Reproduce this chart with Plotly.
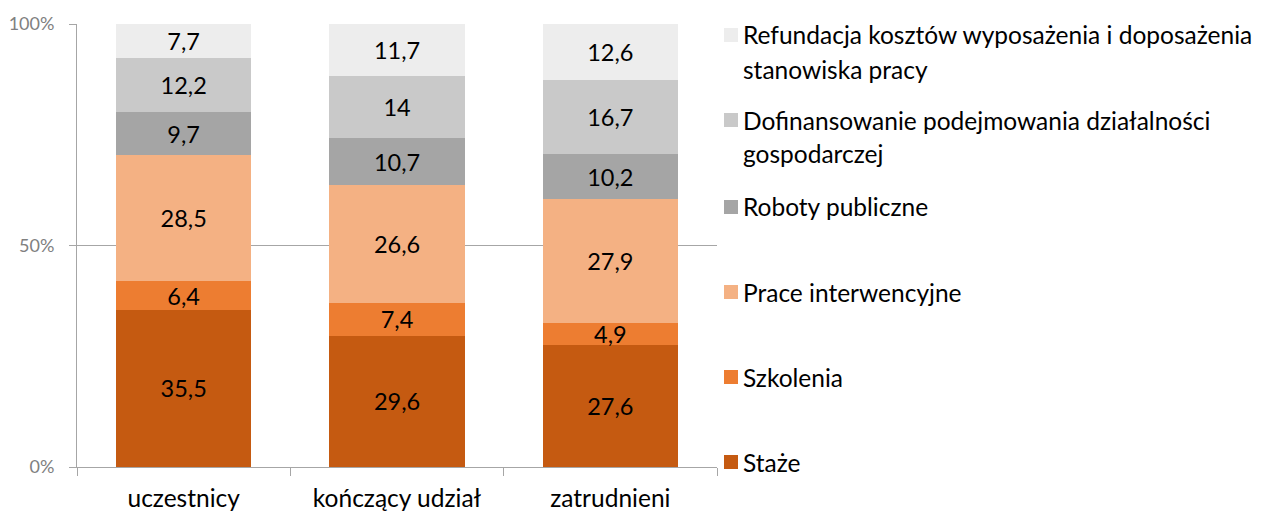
import plotly.graph_objects as go

categories = ["uczestnicy", "kończący udział", "zatrudnieni"]
series_names = [
    "Staże",
    "Szkolenia",
    "Prace interwencyjne",
    "Roboty publiczne",
    "Dofinansowanie podejmowania działalności gospodarczej",
    "Refundacja kosztów wyposażenia i doposażenia stanowiska pracy",
]
staze = [35.5, 29.6, 27.6]
szkolenia = [6.4, 7.4, 4.9]
prace_interwencyjne = [28.5, 26.6, 27.9]
roboty_publiczne = [9.7, 10.7, 10.2]
dofinansowanie = [12.2, 14, 16.7]
refundacja = [7.7, 11.7, 12.6]
series_values = [staze, szkolenia, prace_interwencyjne, roboty_publiczne, dofinansowanie, refundacja]
colors = ["#C55A11", "#ED7D31", "#F4B183", "#A5A5A5", "#C9C9C9", "#EDEDED"]
legend_lines = [
    ["Staże"],
    ["Szkolenia"],
    ["Prace interwencyjne"],
    ["Roboty publiczne"],
    ["Dofinansowanie podejmowania działalności", "gospodarczej"],
    ["Refundacja kosztów wyposażenia i doposażenia", "stanowiska pracy"],
]
y_ticks = [0, 50, 100]
y_tick_labels = ["0%", "50%", "100%"]

FONT = "Lato"
W, H = 1261, 514
ML, MR, MT, MB = 77, 544, 24, 47


def fmt(v):
    return f"{v:g}".replace(".", ",")


fig = go.Figure()
for name, vals, col in zip(series_names, series_values, colors):
    fig.add_trace(go.Bar(
        x=categories, y=vals, name=name,
        marker=dict(color=col, line=dict(width=0)),
        text=[fmt(v) for v in vals],
        textposition="inside", insidetextanchor="middle",
        constraintext="none",
        textfont=dict(family=FONT, size=23.5, color="#000000"),
        showlegend=False, hoverinfo="skip",
    ))

# manual legend (Excel-like layout)
plot_h = H - MT - MB
plot_w = W - ML - MR
def py(pix):
    return (H - MB - pix) / plot_h
def px(pix):
    return (pix - ML) / plot_w

legend_first_line_px = [462, 377, 292, 207, 120, 35]
line_gap = 34
shapes = []
annotations = []
for lines, col, y0 in zip(legend_lines, colors, legend_first_line_px):
    shapes.append(dict(type="rect", xref="paper", yref="paper",
                       x0=px(724), x1=px(738),
                       y0=py(y0 + 7), y1=py(y0 - 7),
                       fillcolor=col, line=dict(width=0), layer="above"))
    for i, ln in enumerate(lines):
        annotations.append(dict(text=ln, xref="paper", yref="paper",
                                x=px(741), y=py(y0 + i * line_gap),
                                xanchor="left", yanchor="middle", showarrow=False,
                                font=dict(family=FONT, size=24.5, color="#000000")))

fig.update_layout(
    barmode="stack", barnorm="percent", bargap=0.367,
    width=W, height=H,
    margin=dict(l=ML, r=MR, t=MT, b=MB, pad=0, autoexpand=False),
    plot_bgcolor="white", paper_bgcolor="white",
    font=dict(family=FONT),
    shapes=shapes, annotations=annotations,
    xaxis=dict(
        automargin=False,
        showline=True, linecolor="#A6A6A6", linewidth=1,
        ticks="outside", tickson="boundaries", ticklen=8, tickcolor="#A6A6A6",
        tickfont=dict(family=FONT, size=24.5, color="#000000"),
        ticklabelstandoff=10, showgrid=False,
    ),
    yaxis=dict(
        automargin=False,
        range=[0, 100], tickvals=y_ticks, ticktext=y_tick_labels,
        showline=True, linecolor="#A6A6A6", linewidth=1,
        ticks="outside", ticklen=7, tickcolor="#A6A6A6",
        showgrid=True, gridcolor="#A6A6A6", gridwidth=1,
        tickfont=dict(family=FONT, size=18, color="#808080"),
        ticklabelstandoff=11, zeroline=False,
    ),
)

fig.write_html(
    "out.html",
    config={"displayModeBar": False},
    post_script="document.body.style.margin='0';document.body.style.overflow='hidden';",
)
